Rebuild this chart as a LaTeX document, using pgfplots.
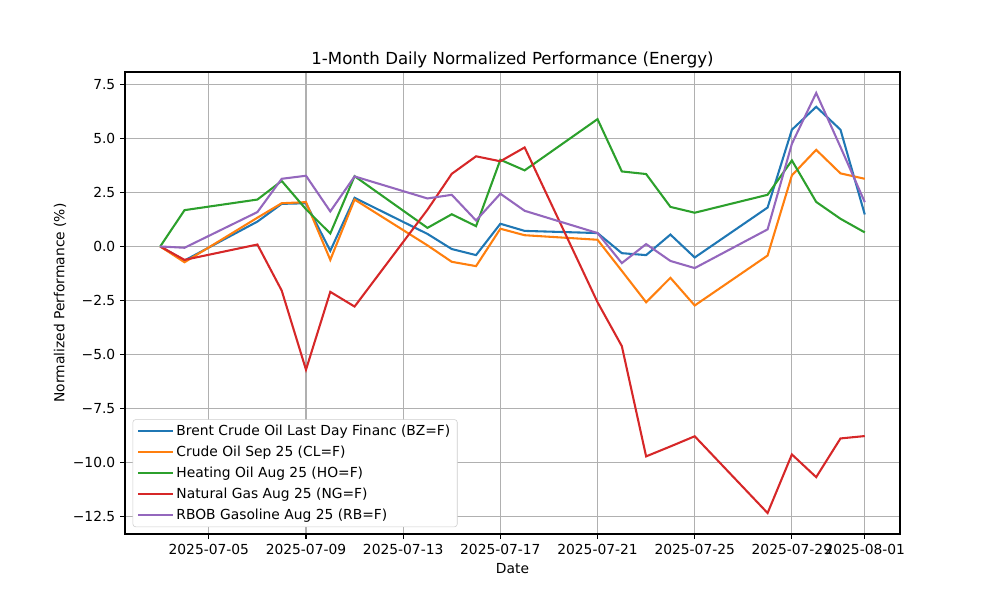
\documentclass[border=0pt]{standalone}
\usepackage{fontspec}
\setmainfont{DejaVu Sans}
\usepackage{pgfplots}
\usepackage{pgfplotstable}
\pgfplotsset{compat=1.18}

\definecolor{tabblue}{HTML}{1F77B4}
\definecolor{taborange}{HTML}{FF7F0E}
\definecolor{tabgreen}{HTML}{2CA02C}
\definecolor{tabred}{HTML}{D62728}
\definecolor{tabpurple}{HTML}{9467BD}
\definecolor{gridgray}{HTML}{B0B0B0}

% day of July (32 = Aug 1), normalized performance in %
\pgfplotstableread{
day  bz     cl     ho    ng      rb
3    0.00   0.00   0.00   0.00   0.00
4   -0.65  -0.73   1.68  -0.62  -0.06
7    1.15   1.33   2.17   0.09   1.59
8    1.97   2.00   3.03  -2.04   3.13
9    2.00   2.05   1.72  -5.70   3.27
10  -0.20  -0.62   0.60  -2.10   1.62
11   2.25   2.17   3.25  -2.78   3.24
14   0.58   0.05   0.86   1.70   2.22
15  -0.12  -0.71   1.49   3.36   2.39
16  -0.40  -0.91   0.94   4.17   1.20
17   1.05   0.82   4.01   3.94   2.44
18   0.72   0.52   3.52   4.58   1.65
21   0.62   0.31   5.89  -2.58   0.62
22  -0.31  -1.13   3.47  -4.61  -0.77
23  -0.40  -2.58   3.35  -9.71   0.11
24   0.55  -1.45   1.83  -9.25  -0.67
25  -0.51  -2.73   1.56  -8.78  -1.00
28   1.80  -0.42   2.39 -12.33   0.79
29   5.40   3.29   3.98  -9.62   4.75
30   6.46   4.47   2.06 -10.67   7.10
31   5.40   3.38   1.28  -8.88   4.60
32   1.48   3.13   0.65  -8.77   2.05
}\perf

\begin{document}
\begin{tikzpicture}
\useasboundingbox (0,0) rectangle (10in,6in);
\begin{axis}[
  at={(1.25in,0.66in)}, anchor=south west,
  width=7.75in, height=4.62in, scale only axis,
  xmin=1.55, xmax=33.45, ymin=-13.3, ymax=8.07,
  xtick={5,9,13,17,21,25,29,32},
  xticklabels={2025-07-05,2025-07-09,2025-07-13,2025-07-17,2025-07-21,2025-07-25,2025-07-29,2025-08-01},
  ytick={-12.5,-10,-7.5,-5,-2.5,0,2.5,5,7.5},
  yticklabels={−12.5,−10.0,−7.5,−5.0,−2.5,0.0,2.5,5.0,7.5},
  tick align=outside, tick pos=left, major tick length=3.5pt,
  tick style={black, line width=0.8pt},
  axis line style={line width=0.8pt},
  grid=major, grid style={gridgray, line width=0.8pt},
  tick label style={font=\fontsize{10}{12}\selectfont},
  label style={font=\fontsize{10}{12}\selectfont},
  title style={font=\fontsize{12}{14}\selectfont, yshift=-6.5pt},
  title={1-Month Daily Normalized Performance (Energy)},
  xlabel={Date}, ylabel={Normalized Performance (\%)},
  xlabel style={yshift=0pt},
  ylabel style={yshift=-2pt},
  legend cell align=left,
  legend style={at={(axis description cs:0,0)}, anchor=south west,
    xshift=5.5pt, yshift=5pt,
    font=\fontsize{10}{12}\selectfont,
    draw=black!20, rounded corners=2pt, inner xsep=3pt, inner ysep=2pt,
    row sep=2pt},
  legend image code/.code={\draw[#1] (0pt,0pt) -- (20pt,0pt); \path (20pt,0pt) -- (25pt,0pt);},
  every axis plot/.append style={line width=1.5pt},
]
\addplot[tabblue] table[x=day,y=bz] {\perf};
\addplot[taborange] table[x=day,y=cl] {\perf};
\addplot[tabgreen] table[x=day,y=ho] {\perf};
\addplot[tabred] table[x=day,y=ng] {\perf};
\addplot[tabpurple] table[x=day,y=rb] {\perf};
\legend{Brent Crude Oil Last Day Financ (BZ=F),Crude Oil Sep 25 (CL=F),Heating Oil Aug 25 (HO=F),Natural Gas Aug 25 (NG=F),RBOB Gasoline Aug 25 (RB=F)}
\end{axis}
\end{tikzpicture}
\end{document}
